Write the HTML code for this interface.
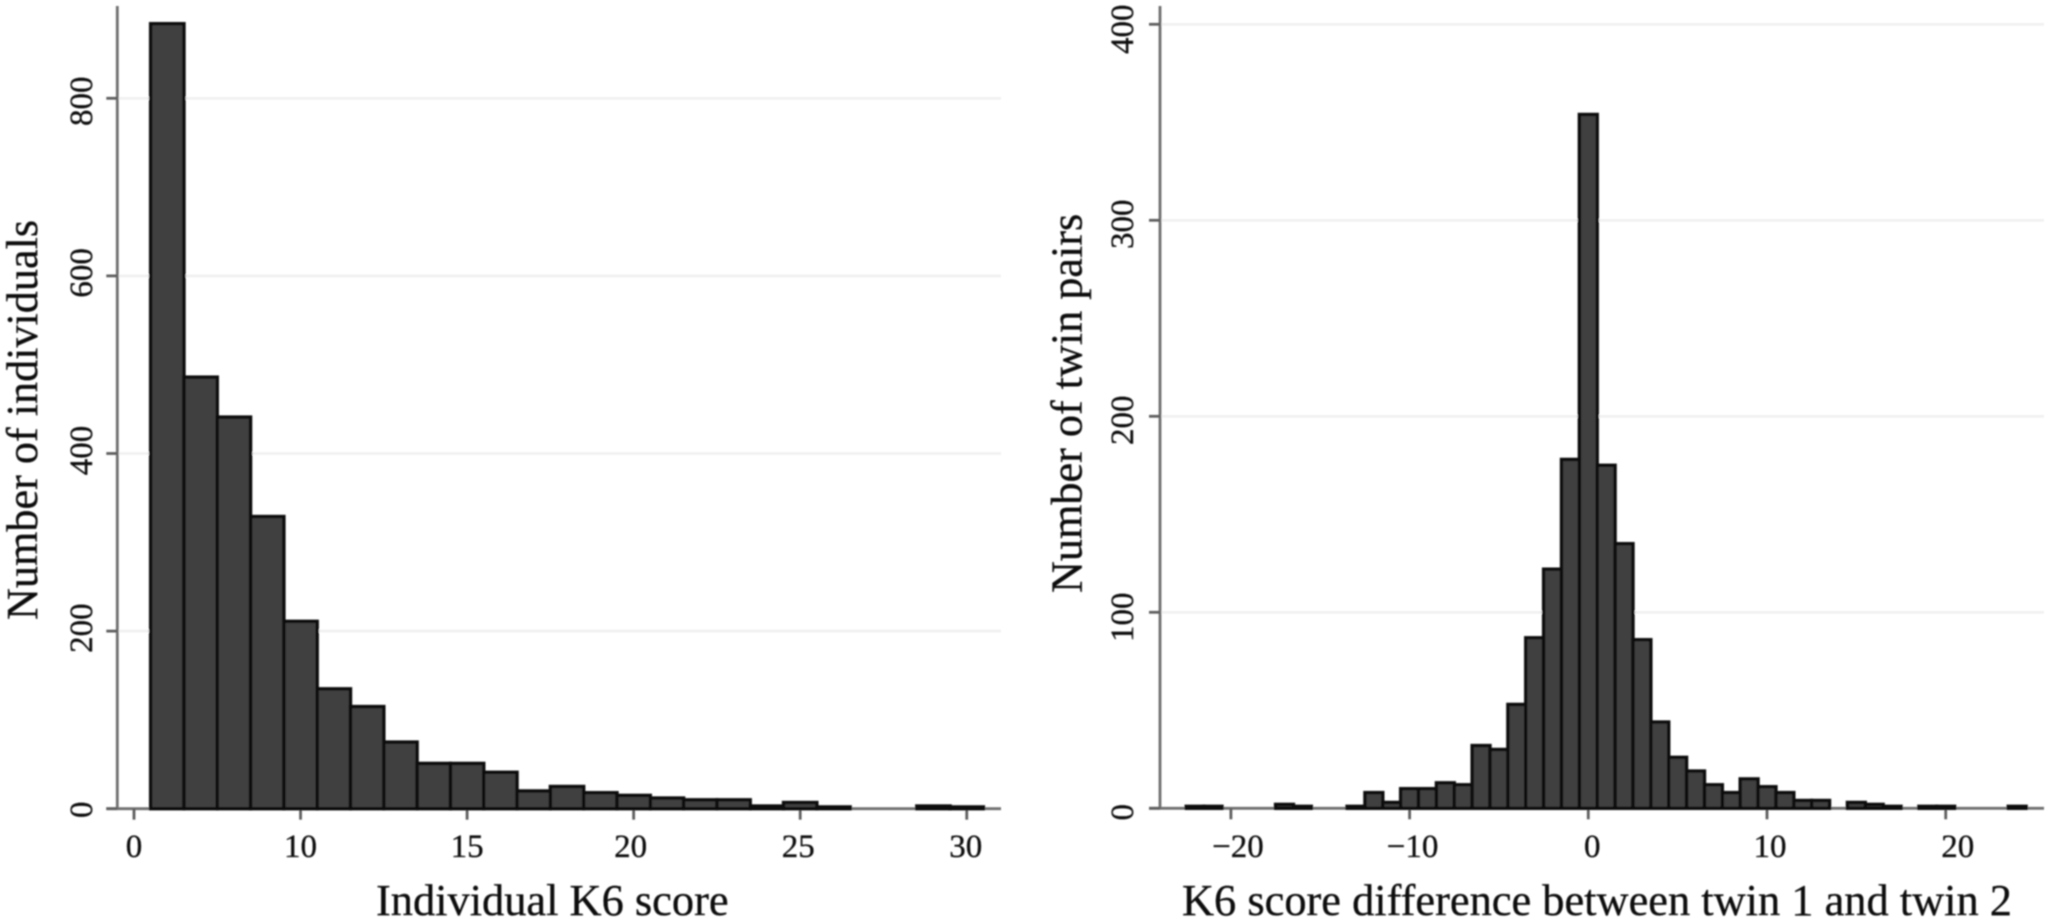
<!DOCTYPE html>
<html lang="en">
<head>
<meta charset="utf-8">
<title>K6 score histograms</title>
<style>
html,body{margin:0;padding:0;background:#fff;width:2051px;height:923px;overflow:hidden}
svg{display:block}
text{font-family:"Liberation Serif",serif;fill:#0c0c0c;stroke:#0c0c0c;stroke-width:0.3px}
</style>
</head>
<body>
<svg id="figure" xmlns="http://www.w3.org/2000/svg" width="2051" height="923" viewBox="0 0 2051 923">
  <defs><filter id="soft" x="-2%" y="-2%" width="104%" height="104%"><feGaussianBlur stdDeviation="0.8"/></filter></defs>
  <rect x="0" y="0" width="2051" height="923" fill="#ffffff"/>
  <g id="root" filter="url(#soft)"></g>
</svg>
<script>
// Left chart data
const leftCategories = [1,2,3,4,5,6,7,8,9,10,11,12,13,14,15,16,17,18,19,20,21,22,23,24,25];
const leftValues = [884,486,441,329,211,135,115,75,51,51,41,20,25,18,15,12,10,10,3,7,2,0,0,3,2];
const leftXTicks = [0,5,10,15,20,25];
const leftXTickLabels = ["0","10","15","20","25","30"];
const leftYTicks = [0,200,400,600,800];
const leftYTickLabels = ["0","200","400","600","800"];
const leftXNudge = [0,0,0,-3,-2,-1];
const leftYNudge = [1,-3,-3,-3,3];

// Right chart data
const rightCategories = [-22,-21,-20,-19,-18,-17,-16,-15,-14,-13,-12,-11,-10,-9,-8,-7,-6,-5,-4,-3,-2,-1,0,1,2,3,4,5,6,7,8,9,10,11,12,13,14,15,16,17,18,19,20,21,22,23,24];
const rightValues = [1,1,0,0,0,2,1,0,0,1,8,3,10,10,13,12,32,30,53,87,122,178,354,175,135,86,44,26,19,12,8,15,11,8,4,4,0,3,2,1,0,1,1,0,0,0,1];
const rightXTicks = [-20,-10,0,10,20];
const rightXTickLabels = ["\u221220","\u221210","0","10","20"];
const rightYTicks = [0,100,200,300,400];
const rightYTickLabels = ["0","100","200","300","400"];
const rightXNudge = [7,3,4,3,12];
const rightYNudge = [4,5,4,4,5];

const NS = "http://www.w3.org/2000/svg";
const root = document.getElementById("root");

function make(tag, attrs, parent) {
  const el = document.createElementNS(NS, tag);
  for (const k in attrs) el.setAttribute(k, attrs[k]);
  parent.appendChild(el);
  return el;
}

function drawHistogram(c) {
  const sx = v => c.x0 + (v - c.xDomain0) * c.xUnit;
  const sy = v => c.y0 - v * c.yUnit;

  const g = make("g", {}, root);
  
  

  // gridlines
  c.yTicks.forEach(t => {
    if (t === 0) return;
    const grid = make("line", {x1: c.axisX, x2: c.right, y1: sy(t), y2: sy(t), stroke: "#f0f0f0", "stroke-width": 2.6}, g);
    
    
  });

  // y axis line
  const yAxis = make("line", {x1: c.axisX, x2: c.axisX, y1: 6, y2: c.y0, stroke: "#6f6f6f", "stroke-width": 2.8}, g);
  
  

  // x axis line
  const xAxis = make("line", {x1: c.axisX - 11, x2: c.right, y1: c.y0, y2: c.y0, stroke: "#6f6f6f", "stroke-width": 2.8}, g);
  
  

  // y ticks and labels
  c.yTicks.forEach((t, i) => {
    const tick = make("line", {x1: c.axisX - 11, x2: c.axisX, y1: sy(t), y2: sy(t), stroke: "#5f5f5f", "stroke-width": 2.8}, g);
    
    
    const ly = sy(t) + c.yNudge[i];
    const lab = make("text", {x: c.yLabelX, y: ly, "font-size": 33, "text-anchor": "middle", transform: "rotate(-90 " + c.yLabelX + " " + ly + ")"}, g);
    lab.textContent = c.yTickLabels[i];
    
    
  });

  // x ticks and labels
  c.xTicks.forEach((t, i) => {
    const tick = make("line", {x1: sx(t), x2: sx(t), y1: c.y0, y2: c.y0 + 11, stroke: "#5f5f5f", "stroke-width": 2.8}, g);
    
    
    const lab = make("text", {x: sx(t) + c.xNudge[i], y: 857, "font-size": 33, "text-anchor": "middle"}, g);
    lab.textContent = c.xTickLabels[i];
    
    
  });

  // bars
  c.categories.forEach((cat, i) => {
    const v = c.values[i];
    if (!(v > 0)) return;
    const bar = make("rect", {
      x: sx(cat - 0.5), y: sy(v), width: c.xUnit, height: c.y0 - sy(v),
      fill: "#3f3f3f", stroke: "#111111", "stroke-width": 3.4
    }, g);
    
    
  });

  // axis titles
  const xt = make("text", {x: c.xTitleX, y: 915, "font-size": 44.4}, g);
  xt.textContent = c.xTitle;
  
  

  const yt = make("text", {x: c.yTitleX, y: c.yTitleY, "font-size": 44.2, transform: "rotate(-90 " + c.yTitleX + " " + c.yTitleY + ")"}, g);
  yt.textContent = c.yTitle;
  
  
}

drawHistogram({
  id: "individual-k6",
  categories: leftCategories, values: leftValues,
  xTicks: leftXTicks, xTickLabels: leftXTickLabels,
  yTicks: leftYTicks, yTickLabels: leftYTickLabels,
  xNudge: leftXNudge, yNudge: leftYNudge,
  x0: 134, xDomain0: 0, xUnit: 33.31,
  y0: 808.7, yUnit: 0.888,
  axisX: 117.3, right: 1001, yLabelX: 92,
  xTitle: "Individual K6 score", xTitleX: 376,
  yTitle: "Number of individuals", yTitleX: 37, yTitleY: 620
});

drawHistogram({
  id: "twin-difference",
  categories: rightCategories, values: rightValues,
  xTicks: rightXTicks, xTickLabels: rightXTickLabels,
  yTicks: rightYTicks, yTickLabels: rightYTickLabels,
  xNudge: rightXNudge, yNudge: rightYNudge,
  x0: 1588.3, xDomain0: 0, xUnit: 17.87,
  y0: 808.3, yUnit: 1.96,
  axisX: 1160, right: 2044, yLabelX: 1133,
  xTitle: "K6 score difference between twin 1 and twin 2", xTitleX: 1182,
  yTitle: "Number of twin pairs", yTitleX: 1081.7, yTitleY: 593
});
</script>
</body>
</html>
